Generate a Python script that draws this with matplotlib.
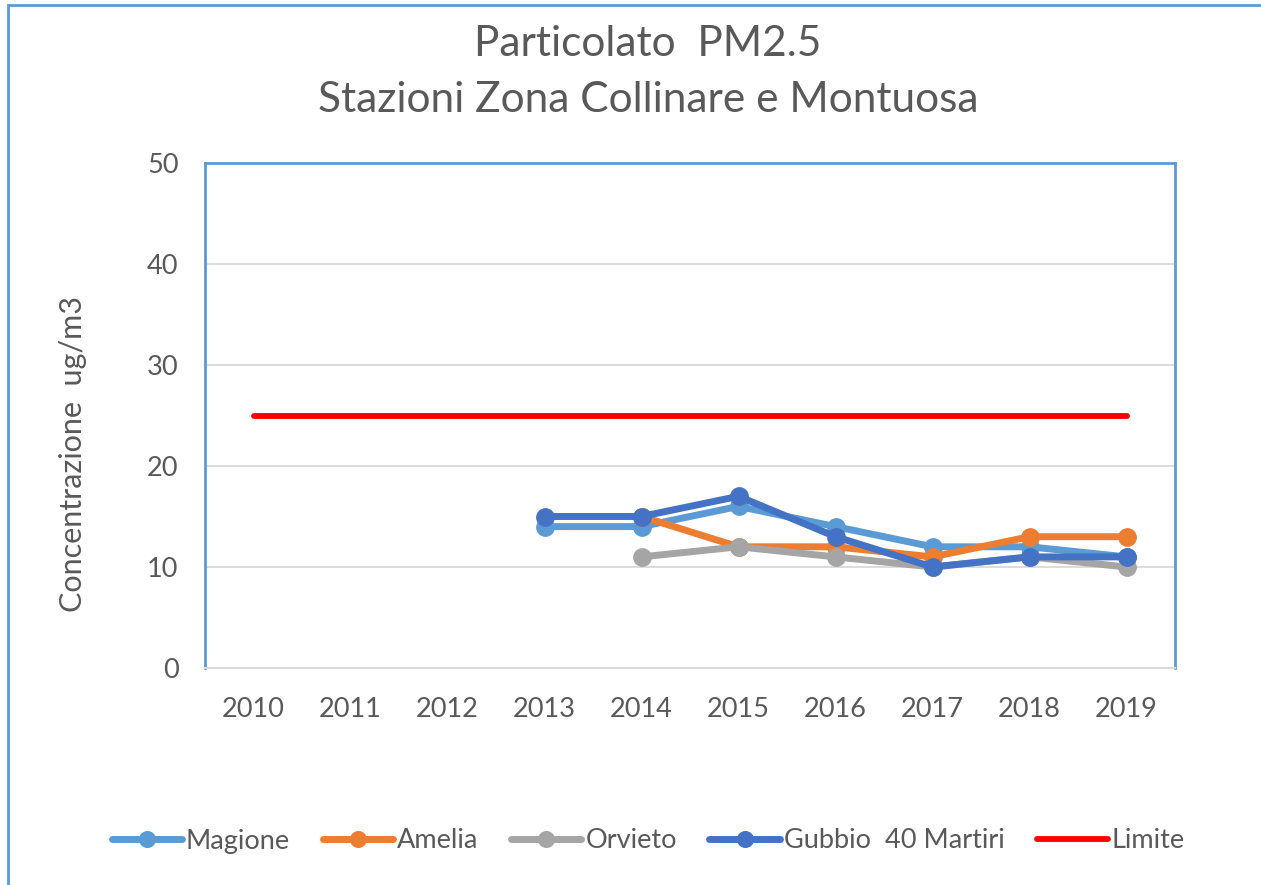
"""Particolato PM2.5 - stazioni zona collinare e montuosa"""

import numpy as np
import matplotlib.pyplot as plt
from matplotlib.patches import Rectangle

anni = ["2010", "2011", "2012", "2013", "2014", "2015", "2016", "2017", "2018", "2019"]
nan = np.nan
magione = [nan, nan, nan, 14, 14, 16, 14, 12, 12, 11]
amelia = [nan, nan, nan, nan, 15, 12, 12, 11, 13, 13]
orvieto = [nan, nan, nan, nan, 11, 12, 11, 10, 11, 10]
gubbio = [nan, nan, nan, 15, 15, 17, 13, 10, 11, 11]
limite = [25, 25, 25, 25, 25, 25, 25, 25, 25, 25]

serie = [
    ("Magione", magione, "#5B9BD5"),
    ("Amelia", amelia, "#ED7D31"),
    ("Orvieto", orvieto, "#A5A5A5"),
    ("Gubbio  40 Martiri", gubbio, "#4472C4"),
]

plt.rcParams["font.family"] = ["Lato", "DejaVu Sans"]
testo = "#595959"

fig = plt.figure(figsize=(12.61, 8.85), dpi=100)
ax = fig.add_axes([205 / 1261, 1 - 668 / 885, 970 / 1261, 505 / 885])

x = np.arange(len(anni))
for nome, valori, colore in serie:
    ax.plot(x, valori, color=colore, linewidth=5, marker="o", markersize=12.5,
            label=nome, solid_capstyle="round", zorder=3)
ax.plot(x, limite, color="#FF0000", linewidth=4.2, label="Limite",
        solid_capstyle="round", zorder=3)

ax.set_xlim(-0.5, len(anni) - 0.5)
ax.set_ylim(0, 50)
ax.set_yticks([0, 10, 20, 30, 40, 50])
ax.set_xticks(x)
ax.set_xticklabels(anni)
ax.tick_params(axis="both", length=0, labelsize=19.5, colors=testo)
ax.tick_params(axis="x", pad=21)
ax.tick_params(axis="y", pad=19)
ax.grid(axis="y", color="#D9D9D9", linewidth=1.3)
ax.set_axisbelow(True)

for lato in ["left", "top", "right"]:
    ax.spines[lato].set_color("#5B9BD5")
    ax.spines[lato].set_linewidth(2)
ax.spines["bottom"].set_color("#D9D9D9")
ax.spines["bottom"].set_linewidth(1.5)

ax.set_ylabel("Concentrazione  ug/m3", fontsize=22, color=testo)
ax.yaxis.set_label_coords(-0.122, 0.424)

fig.text(0.514, 1 - 44 / 885, "Particolato  PM2.5", ha="center", va="center",
         fontsize=30.5, color=testo)
fig.text(0.514, 1 - 100 / 885, "Stazioni Zona Collinare e Montuosa", ha="center",
         va="center", fontsize=30.5, color=testo)

fig.legend(loc="center", bbox_to_anchor=(0.514, 1 - 841 / 885), ncol=5,
           frameon=False, fontsize=19.5, labelcolor=testo, handlelength=2.6,
           handletextpad=0.15, columnspacing=1.2, markerscale=0.9)

# bordo esterno del grafico
fig.patches.append(Rectangle((8 / 1261, -0.1), 1.2, 1 - 5 / 885 + 0.1,
                             transform=fig.transFigure, fill=False,
                             edgecolor="#5B9BD5", linewidth=2))

fig.savefig("out.png", dpi=100)
